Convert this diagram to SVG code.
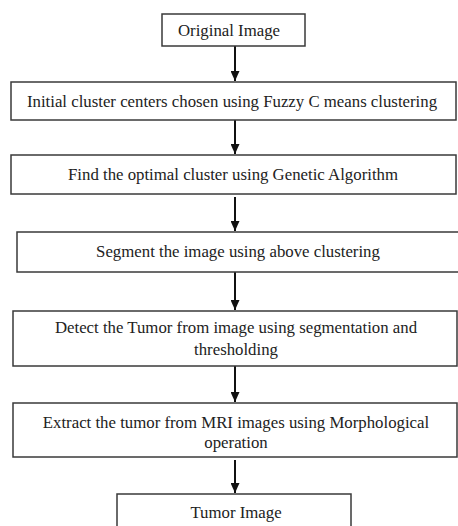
<svg xmlns="http://www.w3.org/2000/svg" width="458" height="526" viewBox="0 0 458 526">
<style>
.box{fill:#fff;stroke:#3a3a3a;stroke-width:1.5}
.t{font-size:16.8px;fill:#222;text-anchor:middle}
.c{stroke:#111;stroke-width:2;fill:none}
</style>
<defs>
<marker id="ah" markerWidth="10" markerHeight="9" refX="10" refY="4.5" orient="auto" markerUnits="userSpaceOnUse" viewBox="0 0 10 9">
<path d="M0,0 L10,4.5 L0,9 Z" fill="#111"/>
</marker>
</defs>
<rect width="458" height="526" fill="#fff"/>
<g id="connectors">
<line class="c" x1="235" y1="46" x2="235" y2="81" marker-end="url(#ah)"/>
<line class="c" x1="235" y1="120" x2="235" y2="154" marker-end="url(#ah)"/>
<line class="c" x1="235" y1="197" x2="235" y2="231" marker-end="url(#ah)"/>
<line class="c" x1="235" y1="272" x2="235" y2="310" marker-end="url(#ah)"/>
<line class="c" x1="235" y1="366" x2="235" y2="402" marker-end="url(#ah)"/>
<line class="c" x1="235" y1="460" x2="235" y2="493" marker-end="url(#ah)"/>
</g>
<g font-family="Liberation Serif, Times New Roman, serif">
<g id="n1"><rect class="box" x="162" y="14" width="143" height="32"/><text class="t" x="229" y="36">Original Image</text></g>
<g id="n2"><rect class="box" x="11" y="82" width="445" height="38"/><text class="t" x="232" y="107">Initial cluster centers chosen using Fuzzy C means clustering</text></g>
<g id="n3"><rect class="box" x="11" y="155" width="445" height="39"/><text class="t" x="233" y="180">Find the optimal cluster using Genetic Algorithm</text></g>
<g id="n4"><rect class="box" x="17" y="232" width="445" height="40"/><text class="t" x="238" y="257">Segment the image using above clustering</text></g>
<g id="n5"><rect class="box" x="13" y="311" width="444" height="55"/><text class="t" x="236" y="333">Detect the Tumor from image using segmentation and</text><text class="t" x="236" y="355">thresholding</text></g>
<g id="n6"><rect class="box" x="13" y="403" width="444" height="54"/><text class="t" x="236" y="428">Extract the tumor from MRI images using Morphological</text><text class="t" x="236" y="448">operation</text></g>
<g id="n7"><rect class="box" x="117" y="494" width="234" height="40"/><text class="t" x="236" y="518">Tumor Image</text></g>
</g>
</svg>
